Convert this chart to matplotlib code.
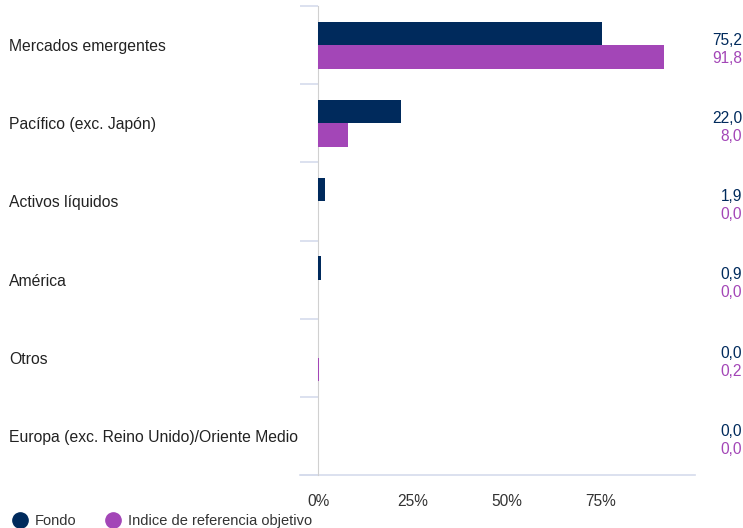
import numpy as np
import matplotlib.pyplot as plt
from matplotlib.transforms import blended_transform_factory

plt.rcParams['font.family'] = ['Liberation Sans', 'DejaVu Sans']

categorias = ['Mercados emergentes', 'Pacífico (exc. Japón)', 'Activos líquidos',
              'América', 'Otros', 'Europa (exc. Reino Unido)/Oriente Medio']
fondo = [75.2, 22.0, 1.9, 0.9, 0.0, 0.0]
indice = [91.8, 8.0, 0.0, 0.0, 0.2, 0.0]
series = ['Fondo', 'Indice de referencia objetivo']
ticks = [0, 25, 50, 75]

c_fondo = '#002a5c'
c_indice = '#a346b7'
c_axis = '#d5dbec'

fig = plt.figure(figsize=(7.43, 5.28), dpi=100)
ax = fig.add_axes([318/743, 1-475/528, (695-318)/743, (475-6)/528])

y = np.arange(len(categorias))
h = 0.3
ax.barh(y - 0.15, fondo, height=h, color=c_fondo, zorder=3)
ax.barh(y + 0.15, indice, height=h, color=c_indice, zorder=3)

ax.set_xlim(0, 100)
ax.set_ylim(len(categorias) - 0.5, -0.5)

ax.set_xticks(ticks)
ax.set_xticklabels([f'{t}%' for t in ticks], fontsize=11.2, color='#333333')
ax.tick_params(axis='x', length=0, pad=14)

ax.set_yticks([])
ax.set_yticks(np.arange(-0.5, len(categorias)), minor=True)
ax.tick_params(axis='y', which='minor', length=13, color=c_axis, width=1.2)

for s in ['top', 'right', 'bottom']:
    ax.spines[s].set_visible(False)
ax.spines['left'].set_color('#d0d0d0')

# linea inferior, un poco mas alla del eje y
ax.plot([-18/3.77, 100], [5.5, 5.5], color=c_axis, lw=1.2, clip_on=False)

tr = blended_transform_factory(fig.transFigure, ax.transData)
for i, cat in enumerate(categorias):
    fig.text(9/743, i + 0.02, cat, transform=tr, ha='left', va='center',
             fontsize=11.3, color='#222222')
    fig.text(742/743, i - 0.06, f'{fondo[i]:.1f}'.replace('.', ','), transform=tr,
             ha='right', va='center', fontsize=11.2, color=c_fondo)
    fig.text(742/743, i + 0.17, f'{indice[i]:.1f}'.replace('.', ','), transform=tr,
             ha='right', va='center', fontsize=11.2, color=c_indice)

# leyenda
for xp, lab, col in zip([20, 113], series, [c_fondo, c_indice]):
    fig.add_artist(plt.Line2D([xp/743], [1-520/528], marker='o', markersize=11,
                              color=col, transform=fig.transFigure))
    fig.text((xp+15)/743, 1-521/528, lab, ha='left', va='center', fontsize=10.5,
             color='#333333')

fig.savefig('out.png', dpi=100)
